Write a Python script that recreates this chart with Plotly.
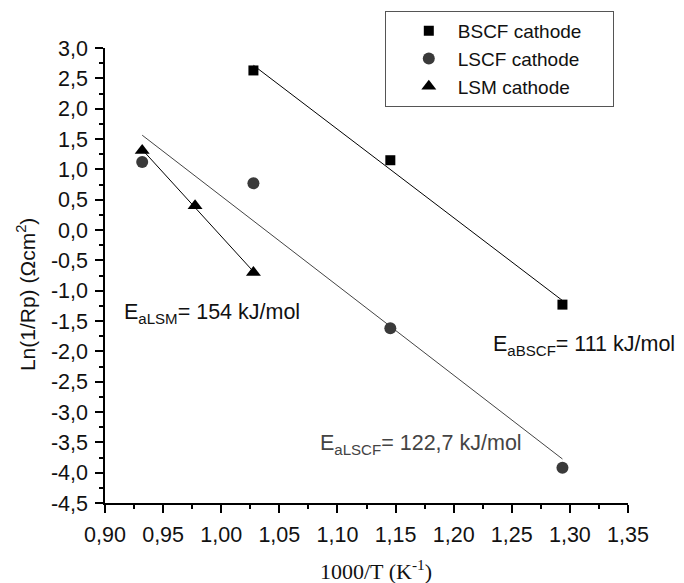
import numpy as np
import plotly.graph_objects as go

# ---- data ----
bscf_x = [1.0277, 1.1455, 1.2936]
bscf_y = [2.63, 1.15, -1.23]
lscf_x = [0.9320, 1.0277, 1.1455, 1.2936]
lscf_y = [1.12, 0.77, -1.62, -3.92]
lsm_x = [0.9320, 0.9775, 1.0277]
lsm_y = [1.31, 0.40, -0.70]

x_tickvals = [0.90, 0.95, 1.00, 1.05, 1.10, 1.15, 1.20, 1.25, 1.30, 1.35]
x_ticktext = ["0,90", "0,95", "1,00", "1,05", "1,10", "1,15", "1,20", "1,25", "1,30", "1,35"]
y_tickvals = [3.0, 2.5, 2.0, 1.5, 1.0, 0.5, 0.0, -0.5, -1.0, -1.5, -2.0, -2.5, -3.0, -3.5, -4.0, -4.5]
y_ticktext = ["3,0", "2,5", "2,0", "1,5", "1,0", "0,5", "0,0", "-0,5", "-1,0", "-1,5", "-2,0", "-2,5", "-3,0", "-3,5", "-4,0", "-4,5"]

FONT = "Liberation Sans, Arial, sans-serif"
SERIF = "Liberation Serif, Times New Roman, serif"
PAD = "\u00a0" * 5  # a little room on the right of the legend texts


def fit_line(x, y):
    k, b = np.polyfit(x, y, 1)
    xs = np.array([min(x), max(x)])
    return xs, k * xs + b


fig = go.Figure()

# fitted lines
for xs_, ys_, col in [(bscf_x, bscf_y, "#000000"),
                      (lscf_x, lscf_y, "#444444"),
                      (lsm_x, lsm_y, "#000000")]:
    fx, fy = fit_line(xs_, ys_)
    fig.add_trace(go.Scatter(x=fx, y=fy, mode="lines", line=dict(color=col, width=1.0),
                             showlegend=False, hoverinfo="skip"))

fig.add_trace(go.Scatter(x=bscf_x, y=bscf_y, mode="markers", name="BSCF cathode" + PAD,
                         marker=dict(symbol="square", size=10, color="#000000")))
fig.add_trace(go.Scatter(x=lscf_x, y=lscf_y, mode="markers", name="LSCF cathode" + PAD,
                         marker=dict(symbol="circle", size=12, color="#3a3a3a")))
fig.add_trace(go.Scatter(x=lsm_x, y=lsm_y, mode="markers", name="LSM cathode" + PAD,
                         marker=dict(symbol="triangle-up", size=13, color="#000000")))

ann_font = dict(family=FONT, size=21.5, color="#111111")
fig.add_annotation(x=0.9146, y=-1.38, xref="x", yref="y", xanchor="left", yanchor="middle",
                   text="E<sub>aLSM</sub>= 154 kJ/mol", showarrow=False, font=ann_font)
fig.add_annotation(x=1.2325, y=-1.91, xref="x", yref="y", xanchor="left", yanchor="middle",
                   text="E<sub>aBSCF</sub>= 111 kJ/mol", showarrow=False, font=ann_font)
fig.add_annotation(x=1.0833, y=-3.53, xref="x", yref="y", xanchor="left", yanchor="middle",
                   text="E<sub>aLSCF</sub>= 122,7 kJ/mol", showarrow=False,
                   font=dict(family=FONT, size=21.5, color="#444444"))

# axis titles
fig.add_annotation(x=0.518, y=-0.147, xref="paper", yref="paper", xanchor="center", yanchor="middle",
                   text="1000/T (K<sup>-1</sup>)", showarrow=False,
                   font=dict(family=SERIF, size=22, color="#111111"))
fig.add_annotation(x=-0.151, y=0.457, xref="paper", yref="paper", xanchor="center", yanchor="middle",
                   text="Ln(1/Rp) (Ωcm<sup>2</sup>)", showarrow=False, textangle=-90,
                   font=dict(family=FONT, size=21, color="#111111"))

axis_common = dict(showline=True, linecolor="#000000", linewidth=1.5, ticks="outside",
                   ticklen=8, tickwidth=1.5, tickcolor="#000000", showgrid=False,
                   zeroline=False, mirror=False, ticklabelstandoff=3,
                   tickfont=dict(family=FONT, size=21.5, color="#111111"))

fig.update_xaxes(range=[0.90, 1.35], tickmode="array", tickvals=x_tickvals, ticktext=x_ticktext,
                 minor=dict(tickmode="linear", tick0=0.9, dtick=0.025, ticks="outside", ticklen=4.5,
                            tickwidth=1.5, tickcolor="#000000"),
                 **axis_common)
fig.update_yaxes(range=[-4.5, 3.0], tickmode="array", tickvals=y_tickvals, ticktext=y_ticktext,
                 minor=dict(tickmode="linear", tick0=0.0, dtick=0.25, ticks="outside", ticklen=4.5,
                            tickwidth=1.5, tickcolor="#000000"),
                 **axis_common)

# the page body adds an 8px margin, so the figure is 8px smaller and shifted
fig.update_layout(
    width=676, height=575,
    margin=dict(l=97, r=56, t=40, b=80, pad=0, autoexpand=False),
    plot_bgcolor="#ffffff", paper_bgcolor="#ffffff",
    legend=dict(x=0.535, y=0.976, xanchor="left", yanchor="middle",
                bordercolor="#555555", borderwidth=1, bgcolor="#ffffff",
                font=dict(family=FONT, size=19, color="#111111"),
                indentation=14, itemwidth=48, tracegroupgap=0),
)

fig.write_html("out.html")
